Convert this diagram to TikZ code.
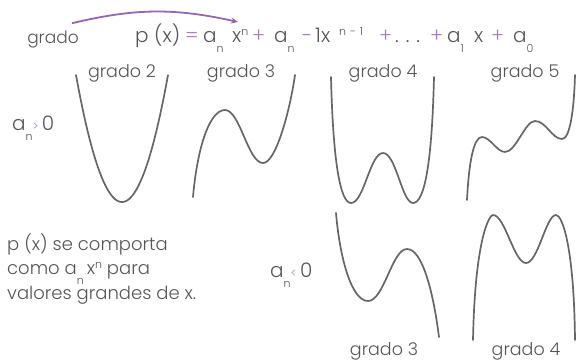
\documentclass[tikz,border=0pt]{standalone}
\usepackage{fontspec}
\setmainfont{Poppins}[UprightFont=* Light]
\usepackage{xcolor}
\usetikzlibrary{arrows.meta, positioning}

\definecolor{txtgray}{HTML}{555555}
\definecolor{oppurple}{HTML}{A77CCB}
\definecolor{arrowpurple}{HTML}{9466B6}

\newcommand{\lowidx}[1]{\raisebox{-1.0ex}{\fontsize{11}{11}\selectfont #1}}
\newcommand{\highidx}[1]{\raisebox{0.6ex}{\fontsize{11}{11}\selectfont #1}}
\newcommand{\opr}[1]{\textcolor{oppurple}{#1}}
\newcommand{\slot}[2]{\makebox[#1pt][l]{#2}}

\begin{document}
\begin{tikzpicture}[x=1pt,y=-1pt,
    every node/.style={text=txtgray,inner sep=0pt},
    big/.style={font=\fontsize{20}{24.5}\selectfont},
    note/.style={font=\fontsize{18}{24.5}\selectfont},
    lbl/.style={font=\fontsize{17.5}{20}\selectfont,anchor=base},
    curve/.style={draw=txtgray!90,line width=1.7pt,line cap=round}]
    \useasboundingbox (0,0) rectangle (576,360);

    \node[font=\fontsize{17}{20}\selectfont,anchor=base] (gradotxt) at (53,43) {grado};
    \node[big,anchor=base west] (formula) at (135,42)
        {\slot{50}{p (x)}\slot{18}{\opr{=}}\slot{29}{a\lowidx{n}}\slot{20}{x\highidx{n}}\slot{22}{\opr{+}}%
         \slot{28}{a\lowidx{n}}\slot{13}{\opr{-}}\slot{24}{1x}\slot{40}{\highidx{n\hspace{4pt}-\hspace{4pt}1}}\slot{16}{\opr{+}}%
         \slot{35}{.\hspace{7pt}.\hspace{7pt}.}\slot{17}{\opr{+}}\slot{27}{a\lowidx{1}}\slot{17}{x}\slot{22}{\opr{+}}a\lowidx{0}};
    \coordinate (xn) at (238,22);
    \draw[arrowpurple,line width=1.8pt,-{Stealth[length=7pt,width=6pt]}]
        ([shift={(-7,-7)}]gradotxt.north east) to[bend left=13] (xn);

    \node[lbl] (g2) at (122,77) {grado 2};
    \node[lbl] (g3) at (241,77) {grado 3};
    \node[lbl] (g4) at (383,77) {grado 4};
    \node[lbl] (g5) at (525,77) {grado 5};
    \node[big,anchor=base west] (apos) at (12,130) {a\lowidx{n}\opr{\fontsize{12}{12}\selectfont >}\,0};

    \node[note,anchor=north west,align=left] (nota) at (7,233)
        {p (x) se comporta\\como a\lowidx{n}\,x\highidx{n} para\\valores grandes de x.};
    \node[big,anchor=base west] (aneg) at (270,277) {a\lowidx{n}\opr{\fontsize{12}{12}\selectfont <}\,0};
    \node[lbl] (ng3) at (384,355) {grado 3};
    \node[lbl] (ng4) at (526,355) {grado 4};

    \draw[curve] plot[domain=-1:1,samples=60] ({122+46*\x},{202-127*\x*\x});
    \draw[curve] (193,197) .. controls (197,150) and (209,110) .. (225,110)
        .. controls (240,110) and (248,163) .. (263,163)
        .. controls (276,163) and (290,110) .. (295,75);
    \draw[curve] (331,77) .. controls (333,160) and (340,203) .. (351,203)
        .. controls (364,203) and (370,153) .. (383,153)
        .. controls (396,153) and (402,203) .. (413,203)
        .. controls (425,203) and (432,160) .. (434,77);
    \draw[curve] (467,200) .. controls (469,160) and (474,137) .. (482,137)
        .. controls (490,137) and (497,152) .. (505,152)
        .. controls (516,152) and (525,121) .. (535,121)
        .. controls (546,121) and (552,139) .. (562,139)
        .. controls (570,139) and (574,110) .. (575,75);
    \draw[curve] (336,213) .. controls (340,260) and (352,301) .. (368,301)
        .. controls (384,301) and (392,249) .. (407,249)
        .. controls (422,249) and (433,290) .. (439,337);
    \draw[curve] (473,340) .. controls (475,240) and (489,215) .. (493,215)
        .. controls (505,215) and (514,263) .. (526,263)
        .. controls (538,263) and (546,215) .. (556,215)
        .. controls (562,215) and (574,245) .. (575,340);
\end{tikzpicture}
\end{document}
